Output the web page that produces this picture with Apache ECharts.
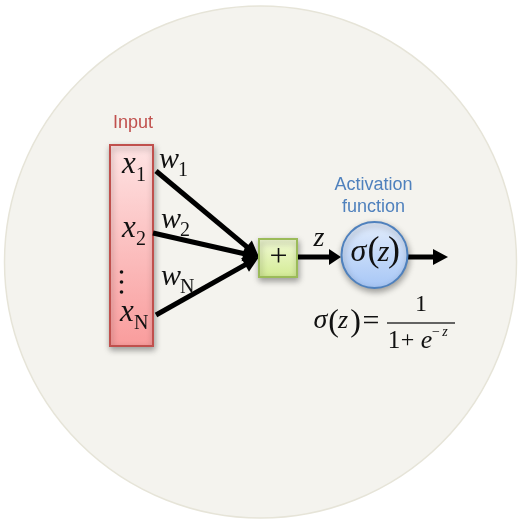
<!DOCTYPE html>
<html><head><meta charset="utf-8">
<script src="https://cdn.jsdelivr.net/npm/echarts@6/dist/echarts.min.js"></script>
<style>html,body{margin:0;padding:0;background:#fff}#c{width:519px;height:520px}</style>
</head><body><div id="c"></div>
<script>
// ---- content ----
const titleInput = 'Input';
const titleActivation = ['Activation', 'function'];
const inputSymbol = 'x';
const inputSubs = ['1', '2', 'N'];
const weightSymbol = 'w';
const weightSubs = ['1', '2', 'N'];
const sumSymbol = '+';
const sumOutput = 'z';
const sigma = 'σ';

// ---- layout ----
const SERIF = '"Liberation Serif","Times New Roman",serif';
const SANS = '"Liberation Sans",Arial,sans-serif';
const inputAnchors = [[156,171],[153,233],[156,315]];
const inputTextPos = [[129,175],[129,239],[127,323]];   // baseline of main glyph
const weightTextPos = [[169,170],[171,230],[171,287]];
const sumBox = {x:259, y:239, w:38, h:38};
const tip = [259, 257];
const act = {cx:374.5, cy:255, r:33};

function t(x, base, str, size, o) {
  o = o || {};
  const f = (o.italic ? 'italic ' : '') + size + 'px ' + (o.family || SERIF);
  return {type:'text', x:x, y: base - 0.34*size, z: o.z || 10,
    style:{text:str, font:f, fill:o.color || '#111', align:o.align || 'left', verticalAlign:'middle'}};
}
function arrow(x1,y1,x2,y2,hl,hw,lw){
  const dx=x2-x1, dy=y2-y1, L=Math.sqrt(dx*dx+dy*dy), ux=dx/L, uy=dy/L;
  const bx=x2-ux*hl, by=y2-uy*hl, px=-uy, py=ux;
  return [
    {type:'line', z:5, shape:{x1:x1,y1:y1,x2:bx+ux*1,y2:by+uy*1}, style:{stroke:'#000', lineWidth:lw}},
    {type:'polygon', z:5, shape:{points:[[x2,y2],[bx+px*hw,by+py*hw],[bx-px*hw,by-py*hw]]}, style:{fill:'#000'}}
  ];
}
const g = [];
// background disc
g.push({type:'circle', z:1, shape:{cx:260.5, cy:262, r:256}, style:{fill:'#f4f3ee', stroke:'#e6e4d8', lineWidth:1.5}});
// input box
g.push({type:'rect', z:3, shape:{x:110, y:145, width:43, height:201},
  style:{fill:{type:'linear',x:0,y:0,x2:0,y2:1,colorStops:[{offset:0,color:'#fee4e4'},{offset:1,color:'#f99c9c'}]},
    stroke:'#c0504d', lineWidth:2, shadowBlur:6, shadowColor:'rgba(0,0,0,0.35)', shadowOffsetX:1, shadowOffsetY:3}});
g.push(t(133, 129, titleInput, 18, {family:SANS, color:'#c0504d', align:'center'}));
// input labels
inputSubs.forEach((s,i)=>{
  const p = inputTextPos[i];
  g.push(t(p[0], p[1], inputSymbol, 31, {italic:true, align:'center'}));
  g.push(t(p[0]+7, p[1]+8, s, 20, {}));
});
// vertical dots
[272,282,292].forEach(y=>g.push({type:'circle', z:10, shape:{cx:121.5, cy:y, r:1.8}, style:{fill:'#111'}}));
// weighted arrows
inputAnchors.forEach(a=>arrow(a[0],a[1],tip[0],tip[1],16,8,5).forEach(e=>g.push(e)));
weightSubs.forEach((s,i)=>{
  const p = weightTextPos[i];
  g.push(t(p[0], p[1], weightSymbol, 30, {italic:true, align:'center'}));
  g.push(t(p[0]+9, p[1]+8, s, 20, {}));
});
// sum box
g.push({type:'rect', z:6, shape:{x:sumBox.x, y:sumBox.y, width:sumBox.w, height:sumBox.h},
  style:{fill:{type:'linear',x:0,y:0,x2:0,y2:1,colorStops:[{offset:0,color:'#f2fad6'},{offset:1,color:'#d3eb94'}]},
    stroke:'#9bbb59', lineWidth:2, shadowBlur:6, shadowColor:'rgba(0,0,0,0.35)', shadowOffsetX:1, shadowOffsetY:3}});
g.push(t(278.5, 268, sumSymbol, 32, {align:'center', z:11}));
// z arrow
arrow(297,257,341,257,12,8,5).forEach(e=>g.push(e));
g.push(t(319, 248, sumOutput, 28, {italic:true, align:'center'}));
// activation circle
g.push({type:'circle', z:6, shape:{cx:act.cx, cy:act.cy, r:act.r},
  style:{fill:{type:'linear',x:0,y:0,x2:0,y2:1,colorStops:[{offset:0,color:'#e3edfc'},{offset:1,color:'#a6c6f6'}]},
    stroke:'#4f81bd', lineWidth:2, shadowBlur:6, shadowColor:'rgba(0,0,0,0.35)', shadowOffsetX:1, shadowOffsetY:3}});
g.push(t(358.5, 263, sigma, 32, {italic:true, align:'center', z:11}));
g.push(t(373.5, 264, '(', 36, {align:'center', z:11}));
g.push(t(383.5, 263, 'z', 30, {italic:true, align:'center', z:11}));
g.push(t(394, 264, ')', 36, {align:'center', z:11}));
// output arrow
arrow(408,257,448,257,15,8,5).forEach(e=>g.push(e));
// activation title
g.push(t(373.5, 191, titleActivation[0], 18, {family:SANS, color:'#4f81bd', align:'center'}));
g.push(t(373.5, 213, titleActivation[1], 18, {family:SANS, color:'#4f81bd', align:'center'}));
// formula
g.push(t(320.5, 330, sigma, 28, {italic:true, align:'center'}));
g.push(t(333.5, 333, '(', 32, {align:'center'}));
g.push(t(343, 330, 'z', 26, {italic:true, align:'center'}));
g.push(t(355.5, 333, ')', 32, {align:'center'}));
g.push(t(371, 332, '=', 30, {align:'center'}));
g.push({type:'line', z:10, shape:{x1:387,y1:323,x2:455,y2:323}, style:{stroke:'#333', lineWidth:1.5}});
g.push(t(421, 313, '1', 24, {align:'center'}));
g.push(t(394, 350, '1', 25, {align:'center'}));
g.push(t(407.5, 349, '+', 24, {align:'center'}));
g.push(t(426.5, 350, 'e', 26, {italic:true, align:'center'}));
g.push(t(436, 337, '−', 14, {align:'center'}));
g.push(t(445, 337, 'z', 14, {italic:true, align:'center'}));

const chart = echarts.init(document.getElementById('c'), null, {renderer:'canvas'});
chart.setOption({backgroundColor:'#ffffff', animation:false, graphic:{elements:g}});
</script></body></html>
